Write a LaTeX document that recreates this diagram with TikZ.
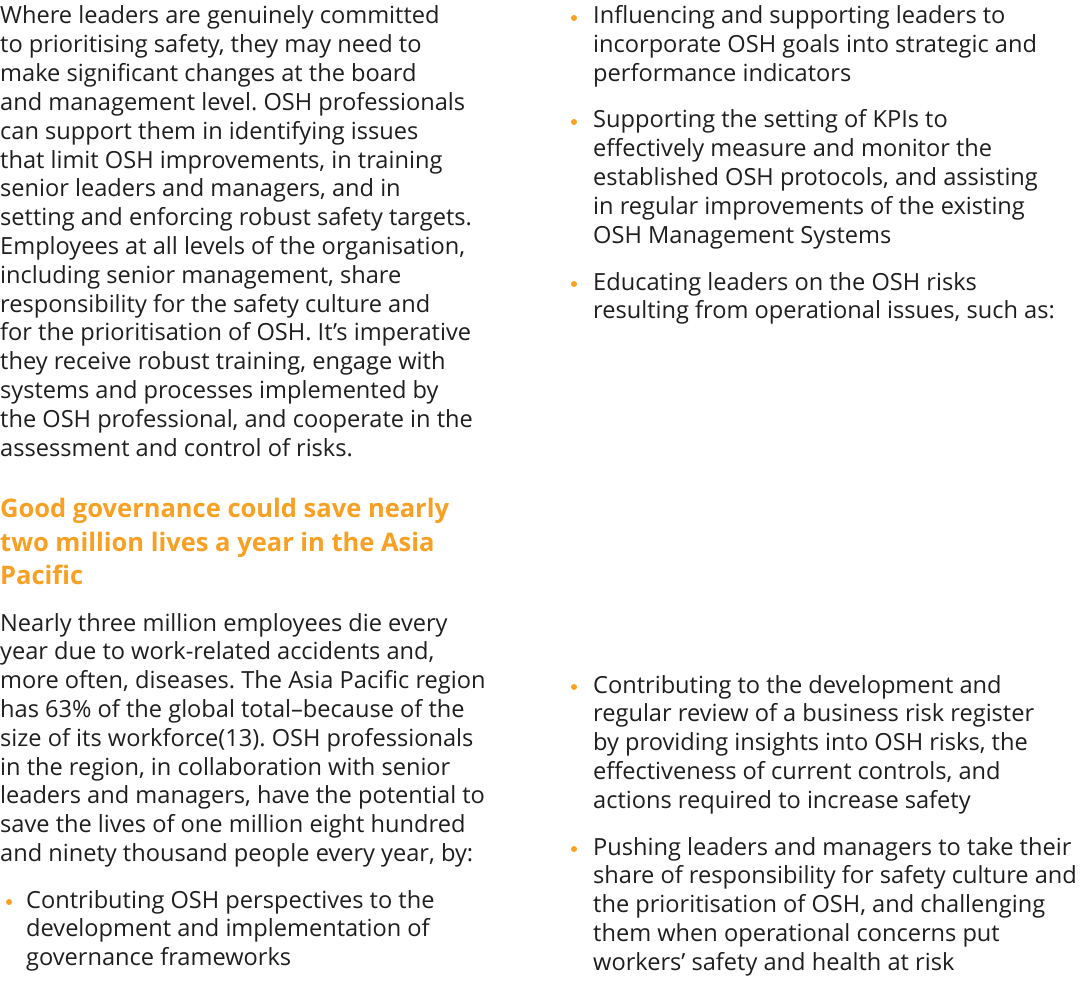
\documentclass[tikz,border=0pt]{standalone}
\usepackage{fontspec}
\setmainfont{Open Sans}
\frenchspacing
\definecolor{txt}{HTML}{1E1E1E}
\definecolor{org}{HTML}{F7A023}
\begin{document}
\begin{tikzpicture}[x=1pt,y=-1pt,
 t/.style={anchor=base west,inner sep=0pt,text=txt,font=\fontsize{23.6}{28}\selectfont},
 h/.style={anchor=base west,inner sep=0pt,text=org,font=\fontsize{25.5}{30}\selectfont\bfseries},
 dot/.style={circle,fill=org,inner sep=0pt,minimum size=6pt}]
\useasboundingbox (0,0) rectangle (1080,982);
\foreach \s [count=\i from 0] in {
Where leaders are genuinely committed,
to prioritising safety{,} they may need to,
make significant changes at the board,
and management level. OSH professionals,
can support them in identifying issues,
that limit OSH improvements{,} in training,
senior leaders and managers{,} and in,
setting and enforcing robust safety targets.,
Employees at all levels of the organisation{,},
including senior management{,} share,
responsibility for the safety culture and,
for the prioritisation of OSH. It’s imperative,
they receive robust training{,} engage with,
systems and processes implemented by,
the OSH professional{,} and cooperate in the,
assessment and control of risks.}
 \node[t] (l\i) at (0,{24+\i*28.8}) {\s};
\node[h] (h1) at (0,517) {Good governance could save nearly};
\node[h] (h2) at (0,551) {two million lives a year in the Asia};
\node[h] (h3) at (0,584) {Pacific};
\foreach \s [count=\i from 0] in {
Nearly three million employees die every,
year due to work-related accidents and{,},
more often{,} diseases. The Asia Pacific region,
has 63\% of the global total–because of the,
size of its workforce(13). OSH professionals,
in the region{,} in collaboration with senior,
leaders and managers{,} have the potential to,
save the lives of one million eight hundred,
and ninety thousand people every year{,} by:}
 \node[t] (p\i) at (0,{631+\i*28.8}) {\s};
\node[dot] (d1) at (9,902) {};
\foreach \s [count=\i from 0] in {
Contributing OSH perspectives to the,
development and implementation of,
governance frameworks}
 \node[t] (b\i) at (26,{908+\i*28.8}) {\s};
% right column
\node[dot] (r1) at (574,18) {};
\foreach \s [count=\i from 0] in {
Influencing and supporting leaders to,
incorporate OSH goals into strategic and,
performance indicators}
 \node[t] (ra\i) at (593,{24+\i*28.8}) {\s};
\node[dot] (r2) at (574,122) {};
\foreach \s [count=\i from 0] in {
Supporting the setting of KPIs to,
effectively measure and monitor the,
established OSH protocols{,} and assisting,
in regular improvements of the existing,
OSH Management Systems}
 \node[t] (rb\i) at (593,{128+\i*28.8}) {\s};
\node[dot] (r3) at (574,284) {};
\foreach \s [count=\i from 0] in {
Educating leaders on the OSH risks,
resulting from operational issues{,} such as:}
 \node[t] (rc\i) at (593,{290+\i*28.8}) {\s};
\node[dot] (r4) at (574,687) {};
\foreach \s [count=\i from 0] in {
Contributing to the development and,
regular review of a business risk register,
by providing insights into OSH risks{,} the,
effectiveness of current controls{,} and,
actions required to increase safety}
 \node[t] (rd\i) at (593,{693+\i*28.8}) {\s};
\node[dot] (r5) at (574,849) {};
\foreach \s [count=\i from 0] in {
Pushing leaders and managers to take their,
share of responsibility for safety culture and,
the prioritisation of OSH{,} and challenging,
them when operational concerns put,
workers’ safety and health at risk}
 \node[t] (re\i) at (593,{855+\i*28.8}) {\s};
\end{tikzpicture}
\end{document}
